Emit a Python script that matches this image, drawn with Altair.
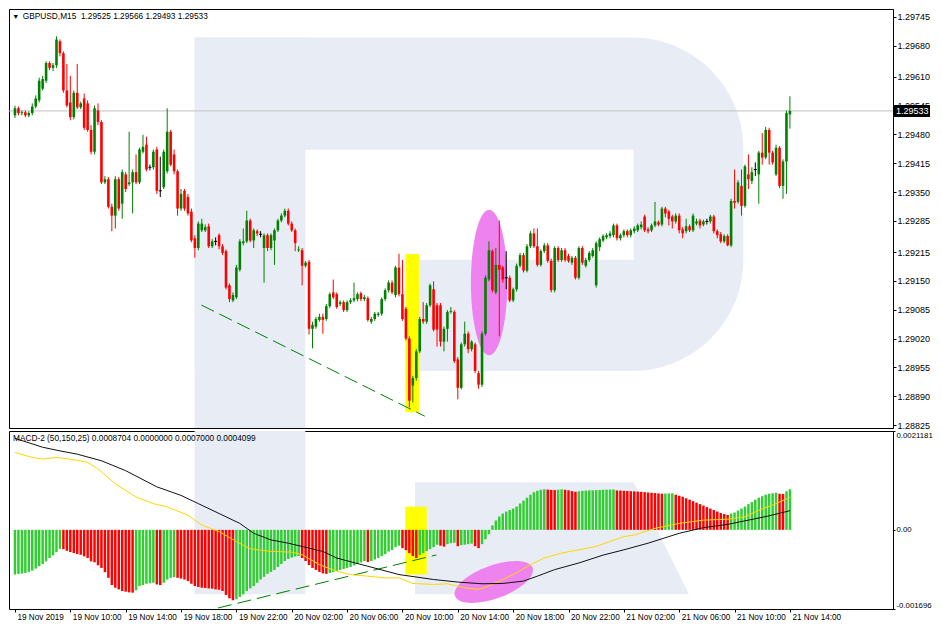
import altair as alt
import pandas as pd

# ---------------- candles (M15), prices as points (1e-5) above 1.29000 ----------------
open_pts = [
    523, 539, 528, 530, 523, 528, 543, 557, 583, 601,
    641, 630, 636, 690, 663, 579, 552, 519, 574, 541,
    561, 550, 490, 441, 534, 508, 372, 379, 317, 297,
    379, 324, 390, 368, 372, 395, 372, 441, 457, 406,
    406, 446, 353, 361, 397, 486, 435, 397, 313, 353,
    339, 306, 246, 224, 264, 264, 273, 228, 239, 253,
    228, 217, 140, 106, 113, 175, 235, 239, 286, 241,
    262, 255, 224, 253, 224, 241, 264, 286, 297, 308,
    279, 264, 219, 219, 184, 193, 42, 47, 62, 69,
    64, 93, 124, 120, 98, 102, 84, 102, 106, 109,
    122, 109, 111, 58, 64, 73, 76, 109, 129, 146,
    118, 180, 120, 87, 20, -86, -69, -9, 64, 58,
    95, 131, 95, 95, 13, 42, 80, 80, -27, -91,
    7, 31, -4, 7, -58, -84, 31, 153, 217, 124,
    186, 180, 157, 157, 106, 131, 184, 208, 173, 228,
    257, 228, 186, 217, 230, 195, 129, 224, 197, 219,
    206, 191, 202, 157, 224, 184, 197, 206, 140, 226,
    241, 248, 251, 253, 275, 246, 253, 262, 253, 262,
    264, 271, 295, 266, 264, 275, 282, 277, 313, 306,
    295, 284, 297, 266, 262, 273, 264, 279, 286, 277,
    284, 284, 295, 262, 255, 239, 251, 230, 330, 328,
    364, 319, 390, 375, 401, 390, 439, 428, 490, 439,
    390, 450, 364, 419, 525,
]
high_pts = [
    545, 543, 534, 534, 532, 550, 568, 608, 612, 645,
    645, 641, 701, 694, 667, 639, 612, 579, 639, 554,
    572, 557, 501, 545, 550, 512, 386, 384, 324, 386,
    384, 401, 395, 486, 401, 435, 450, 479, 475, 412,
    446, 452, 430, 446, 539, 490, 446, 401, 357, 357,
    346, 313, 253, 284, 290, 277, 279, 244, 248, 257,
    233, 221, 144, 124, 186, 244, 268, 308, 290, 268,
    266, 262, 257, 257, 257, 268, 290, 302, 313, 313,
    284, 268, 228, 224, 195, 197, 58, 69, 76, 76,
    98, 124, 153, 124, 106, 106, 106, 111, 146, 124,
    126, 118, 115, 69, 80, 80, 113, 133, 151, 151,
    184, 211, 197, 91, 25, -64, -4, 69, 102, 100,
    144, 149, 100, 100, 47, 84, 91, 84, -22, 11,
    58, 36, 16, 11, -53, 36, 162, 239, 221, 224,
    286, 184, 217, 162, 135, 189, 213, 213, 233, 262,
    268, 268, 221, 235, 235, 200, 228, 228, 224, 224,
    211, 206, 206, 228, 228, 202, 217, 224, 239, 248,
    255, 257, 262, 279, 279, 257, 266, 266, 268, 273,
    279, 284, 299, 271, 279, 328, 286, 317, 317, 310,
    299, 302, 302, 271, 290, 277, 302, 290, 290, 288,
    290, 299, 299, 266, 260, 255, 255, 335, 401, 377,
    401, 412, 435, 406, 417, 443, 483, 497, 495, 443,
    457, 454, 424, 534, 566,
]
low_pts = [
    517, 523, 523, 519, 519, 523, 539, 552, 579, 596,
    625, 623, 630, 656, 574, 541, 512, 514, 537, 537,
    490, 486, 435, 435, 501, 368, 368, 313, 262, 268,
    308, 290, 350, 364, 302, 368, 368, 437, 397, 399,
    401, 346, 339, 357, 392, 408, 390, 297, 308, 308,
    297, 237, 202, 219, 260, 260, 224, 224, 230, 221,
    208, 131, 102, 102, 109, 171, 230, 235, 237, 224,
    251, 248, 146, 217, 219, 186, 260, 282, 293, 275,
    260, 217, 215, 140, 180, 29, -2, 42, 58, 31,
    60, 89, 109, 87, 93, 80, 80, 98, 102, 104,
    104, 104, 58, 53, 60, 69, 71, 104, 124, 120,
    113, 115, 60, 16, -135, -124, -75, -13, 53, 53,
    91, 36, 2, 2, -9, 13, 76, -35, -117, -95,
    2, -13, -9, -58, -93, -89, 27, 149, 124, 120,
    25, 146, 131, 102, 102, 126, 180, 169, 169, 224,
    224, 182, 182, 213, 191, 124, 124, 193, 193, 193,
    191, 186, 153, 153, 186, 180, 193, 202, 135, 217,
    237, 244, 246, 248, 241, 241, 248, 248, 248, 257,
    260, 266, 260, 257, 260, 271, 273, 273, 293, 275,
    268, 279, 257, 246, 257, 260, 260, 275, 268, 273,
    277, 279, 257, 246, 235, 235, 228, 226, 313, 324,
    297, 315, 357, 368, 386, 324, 412, 424, 412, 412,
    386, 359, 335, 346, 493,
]
close_pts = [
    539, 528, 530, 523, 528, 543, 561, 601, 605, 641,
    630, 636, 694, 663, 579, 545, 519, 574, 541, 550,
    495, 490, 441, 539, 508, 372, 379, 317, 297, 379,
    313, 395, 357, 372, 395, 372, 446, 452, 401, 406,
    441, 353, 353, 441, 486, 412, 397, 313, 346, 313,
    302, 241, 224, 279, 279, 271, 228, 239, 239, 228,
    213, 135, 109, 118, 180, 239, 239, 286, 241, 264,
    257, 255, 253, 224, 253, 264, 286, 297, 308, 279,
    264, 235, 221, 184, 191, 42, 51, 64, 69, 62,
    93, 120, 113, 91, 102, 84, 102, 106, 111, 120,
    109, 113, 62, 64, 76, 76, 109, 129, 146, 124,
    180, 120, 64, 20, -120, -69, -9, 64, 58, 95,
    140, 40, 40, 13, 42, 80, 82, -31, -91, 7,
    31, -4, 13, -53, -84, 31, 157, 219, 129, 186,
    175, 153, 157, 106, 131, 184, 208, 173, 228, 257,
    228, 186, 217, 230, 195, 129, 224, 197, 219, 197,
    195, 202, 157, 224, 191, 197, 213, 219, 235, 244,
    251, 253, 257, 275, 246, 253, 262, 253, 264, 268,
    275, 277, 264, 262, 275, 284, 277, 313, 302, 290,
    284, 297, 264, 257, 273, 264, 297, 284, 275, 284,
    284, 295, 262, 253, 239, 251, 230, 330, 326, 372,
    319, 408, 379, 395, 401, 439, 428, 490, 439, 417,
    450, 364, 419, 528, 533,
]
bid_price = 1.29533

# ---------------- MACD-2 (50,150,25), values in units of 1e-5 ----------------
macd_hist_e5 = [
    -95.8, -94.3, -93.7, -92.2, -90.1, -87.3, -83.1, -78.0, -73.1, -67.4,
    -60.4, -54.7, -47.7, -40.7, -41.3, -44.9, -47.7, -49.8, -51.9, -53.4,
    -56.8, -60.4, -67.4, -69.5, -75.9, -81.6, -90.7, -102.8, -118.3, -124.0,
    -127.6, -131.0, -132.5, -134.0, -134.6, -129.7, -120.4, -118.3, -115.5, -114.5,
    -113.4, -117.0, -118.3, -113.4, -106.4, -102.8, -101.3, -102.8, -104.3, -106.4,
    -109.8, -115.5, -120.4, -122.5, -124.0, -124.7, -125.5, -126.1, -127.6, -128.3,
    -131.0, -139.5, -146.7, -150.9, -148.8, -143.7, -138.2, -131.0, -125.5, -120.4,
    -113.4, -106.4, -100.7, -94.3, -90.1, -85.9, -79.5, -73.1, -66.8, -62.5,
    -59.4, -57.2, -56.2, -60.4, -66.8, -75.3, -81.6, -85.9, -90.1, -93.3,
    -94.3, -92.2, -90.1, -88.0, -85.9, -83.7, -81.6, -79.5, -76.3, -73.1,
    -70.0, -66.8, -68.9, -66.8, -63.6, -60.4, -56.2, -51.9, -46.6, -43.5,
    -37.1, -33.9, -39.2, -43.5, -49.8, -56.2, -60.4, -54.1, -49.8, -45.6,
    -41.3, -37.1, -31.8, -33.9, -36.0, -30.7, -28.6, -27.6, -35.0, -32.9,
    -31.8, -30.7, -29.7, -35.0, -39.2, -30.7, -20.1, -9.5, 9.5, 20.1,
    28.6, 35.0, 39.2, 42.4, 45.6, 49.8, 56.2, 62.5, 68.9, 75.3,
    80.6, 83.7, 85.9, 86.9, 86.3, 85.6, 85.2, 85.9, 86.7, 85.9,
    84.8, 83.1, 81.6, 82.7, 83.7, 84.2, 84.6, 84.8, 85.2, 85.4,
    85.9, 86.1, 86.3, 86.5, 84.4, 84.2, 83.7, 83.3, 82.9, 82.5,
    82.0, 81.4, 80.8, 80.1, 79.5, 78.9, 78.0, 77.4, 77.8, 78.2,
    78.4, 75.3, 73.1, 71.0, 67.8, 64.7, 61.5, 58.3, 55.1, 51.9,
    48.8, 45.6, 42.4, 39.2, 36.0, 33.9, 31.8, 35.0, 37.1, 41.3,
    45.6, 49.8, 55.1, 59.4, 64.7, 68.9, 72.1, 75.3, 77.4, 78.4,
    79.5, 77.4, 76.7, 82.7, 87.0,
]
# g = rising bar (green), r = falling bar (red)
macd_hist_dir = (
    "gggggggggg" "ggggrrrrrr" "rrrrrrrrrr" "rrrrrggggg" "grrggggrrr"
    "rrrrrrrrrr" "rrrrgggggg" "gggggggggg" "gggrrrrrrr" "rggggggggg"
    "ggrggggggg" "ggrrrrrggg" "gggrrgggrg" "gggrrggggg" "gggggggggg"
    "ggggrrrggr" "rrrggggggg" "ggggrrrrrr" "rrrrrrrrgg" "grrrrrrrrr"
    "rrrrrrrggg" "gggggggggg" "grrgg"
)
black_idx = [0, 8, 13, 18, 25, 32, 41, 48, 53, 59, 65, 69, 74, 79, 83, 89, 93, 102,
             111, 121, 128, 135, 141, 147, 151, 156, 163, 170, 176, 183, 192, 199,
             206, 212, 218, 224]
black_e5 = [196.1, 177.0, 169.2, 162.2, 148.0, 126.8, 92.2, 73.8, 56.2, 35.0, 13.8,
            -7.4, -21.6, -28.6, -35.6, -46.2, -60.4, -78.0, -95.8, -106.4, -111.9,
            -115.5, -114.9, -109.8, -99.2, -85.2, -71.0, -54.1, -42.8, -28.6, -7.4,
            4.7, 11.7, 20.8, 30.1, 41.0]
gold_idx = [0, 5, 8, 12, 16, 21, 24, 29, 35, 40, 44, 50, 54, 59, 64, 68, 74, 80, 83,
            88, 93, 97, 102, 107, 111, 115, 121, 125, 130, 134, 137, 140, 144, 149,
            153, 158, 163, 168, 172, 176, 179, 185, 192, 199, 206, 211, 215, 220, 224]
gold_e5 = [165.8, 155.2, 151.6, 155.2, 151.6, 144.6, 130.4, 98.6, 70.4, 56.2, 49.2,
           31.4, 10.2, -3.8, -25.0, -40.7, -46.2, -47.7, -53.4, -74.6, -88.6, -95.8,
           -99.2, -102.8, -102.8, -114.9, -117.0, -115.5, -124.0, -127.6, -120.4,
           -109.8, -95.8, -74.6, -60.4, -49.8, -42.8, -35.6, -25.0, -14.4, -11.0,
           3.2, 13.8, 20.8, 22.9, 28.0, 42.0, 56.2, 70.0]

# ---------------- axes ----------------
time_tick_idx = [0, 16, 32, 48, 64, 80, 96, 112, 128, 144, 160, 176, 192, 208, 224]
time_tick_labels = ["19 Nov 2019", "19 Nov 10:00", "19 Nov 14:00", "19 Nov 18:00",
                    "19 Nov 22:00", "20 Nov 02:00", "20 Nov 06:00", "20 Nov 10:00",
                    "20 Nov 14:00", "20 Nov 18:00", "20 Nov 22:00", "21 Nov 02:00",
                    "21 Nov 06:00", "21 Nov 10:00", "21 Nov 14:00"]
price_ticks = [1.29745, 1.29680, 1.29610, 1.29545, 1.29480, 1.29415, 1.29350, 1.29285,
               1.29215, 1.29150, 1.29085, 1.29020, 1.28955, 1.28890, 1.28825]
macd_ticks = [0.0021181, 0.0, -0.001696]
macd_tick_labels = ["0.0021181", "0.00", "-0.001696"]

main_header = "GBPUSD,M15\u00a0\u00a01.29525 1.29566 1.29493 1.29533"
macd_header = "MACD-2 (50,150,25) 0.0008704 0.0000000 0.0007000 0.0004099"

WM = "#e8edf5"
FONT = "Liberation Sans"
CANDLE_COLORS = {"up": "#008000", "down": "#ff0000", "doji": "#000000"}
HIST_COLORS = {"g": "#32cd32", "r": "#ff0000"}
W, H1, H2 = 884, 419, 178
SX = W / 900.0
SY = H1 / 426.0

# ---------------- frames ----------------
n = len(close_pts)
cdf = pd.DataFrame({
    "bar": list(range(n)),
    "o": [1.29 + v / 1e5 for v in open_pts],
    "h": [1.29 + v / 1e5 for v in high_pts],
    "l": [1.29 + v / 1e5 for v in low_pts],
    "c": [1.29 + v / 1e5 for v in close_pts],
})
cdf["dir"] = ["up" if c > o else ("down" if c < o else "doji") for o, c in zip(open_pts, close_pts)]
cdf["col"] = [CANDLE_COLORS[d] for d in cdf["dir"]]

hdf = pd.DataFrame({
    "bar": list(range(len(macd_hist_e5))),
    "v": [v * 1e-5 for v in macd_hist_e5],
    "hcol": [HIST_COLORS[d] for d in macd_hist_dir],
})
bdf = pd.DataFrame({"bar": black_idx, "v": [v * 1e-5 for v in black_e5]})
gdf = pd.DataFrame({"bar": gold_idx, "v": [v * 1e-5 for v in gold_e5]})

XS = alt.Scale(domain=[-0.28, 252.35], nice=False, zero=False)
PS = alt.Scale(domain=[1.288184, 1.297627], nice=False, zero=False)
MS = alt.Scale(domain=[-0.001696, 0.0021181], nice=False, zero=False)

price_axis = alt.Axis(orient="right", values=price_ticks, format=".5f", tickSize=3,
                      labelPadding=1, grid=False, title=None, labelFlush=False,
                      labelOverlap=False, labelFontSize=9)
macd_expr = " : ".join(
    [f"datum.value == {v} ? '{s}'" for v, s in zip(macd_ticks[:-1], macd_tick_labels[:-1])]
) + f" : '{macd_tick_labels[-1]}'"
macd_axis = alt.Axis(orient="right", values=macd_ticks, labelExpr=macd_expr, tickSize=2,
                     labelPadding=1, grid=False, title=None, labelFlush=True,
                     labelOverlap=False, labelFontSize=7.8)
time_expr = "[" + ",".join(f"'{s}'" for s in time_tick_labels) + "][round(datum.value / 16)]"
time_axis = alt.Axis(values=time_tick_idx, labelExpr=time_expr, labelAlign="left",
                     labelOffset=2, tickSize=3, labelPadding=1, domain=False, grid=False,
                     title=None, labelFlush=False, labelOverlap=False, labelFontSize=8.2)


def xm(f):
    return alt.X(f, type="quantitative", scale=XS, axis=None)


def xb(f):
    return alt.X(f, type="quantitative", scale=XS, axis=time_axis)


def yp(f):
    return alt.Y(f, type="quantitative", scale=PS, axis=price_axis)


def ym(f):
    return alt.Y(f, type="quantitative", scale=MS, axis=macd_axis)


def rect_layer(df, color, xfun, yfun, **kw):
    return alt.Chart(df).mark_rect(color=color, **kw).encode(
        x=xfun("x"), x2="x2:Q", y=yfun("y"), y2="y2:Q")


candle_color = alt.Color("col:N", scale=None, legend=None)

# ---- main panel ----
ell_r = 74 * SY
m_stem = rect_layer(pd.DataFrame({"x": [51.93], "x2": [83.93], "y": [1.296984], "y2": [1.288184]}), WM, xm, yp)
m_bowl = rect_layer(pd.DataFrame({"x": [51.93], "x2": [210.53], "y": [1.296984], "y2": [1.289469]}), WM, xm, yp,
                    cornerRadiusTopRight=111, cornerRadiusBottomRight=111)
m_hole = rect_layer(pd.DataFrame({"x": [83.93], "x2": [178.81], "y": [1.294457], "y2": [1.291974]}), "white", xm, yp)
m_gap = rect_layer(pd.DataFrame({"x": [83.93], "x2": [115.65], "y": [1.291974], "y2": [1.289469]}), "white", xm, yp)
m_yellow = rect_layer(pd.DataFrame({"x": [112.84], "x2": [116.77], "y": [1.292107], "y2": [1.288538]}), "#ffff00", xm, yp)
m_ell = alt.Chart(pd.DataFrame({"x": [137.05], "y": [1.291464]})).mark_point(
    shape="M0,-1A0.25,1,0,1,1,0,1A0.25,1,0,1,1,0,-1Z", size=(2 * ell_r) ** 2, filled=True,
    color="#ee82ee", opacity=1, strokeWidth=0).encode(x=xm("x"), y=yp("y"))
m_trend = alt.Chart(pd.DataFrame({"x": [53.89, 118.46], "y": [1.290955, 1.288450]})).mark_line(
    color="#008000", strokeWidth=1, strokeDash=[14, 6]).encode(x=xm("x"), y=yp("y"))
m_bid = alt.Chart(pd.DataFrame({"p": [bid_price]})).mark_rule(color="#c0c0c0", strokeWidth=1).encode(y=yp("p"))
m_wick = alt.Chart(cdf).mark_rule(strokeWidth=1).encode(x=xm("bar"), y=yp("l"), y2="h:Q", color=candle_color)
m_body = alt.Chart(cdf).mark_bar(size=2.6).encode(x=xm("bar"), y=yp("o"), y2="c:Q", color=candle_color)
m_doji = alt.Chart(cdf[cdf["dir"] == "doji"]).mark_rule(color="black", strokeWidth=1, xOffset=-1.5, x2Offset=1.5).encode(
    x=xm("bar"), x2="bar:Q", y=yp("c"))
m_box = alt.Chart(pd.DataFrame({"p": [bid_price]})).mark_point(
    shape="M-1,-0.333L1,-0.333L1,0.333L-1,0.333Z", size=36 ** 2, filled=True, color="black",
    opacity=1, strokeWidth=0).encode(x=alt.value(W + 19), y=yp("p"))
m_boxtext = alt.Chart(pd.DataFrame({"p": [bid_price], "t": [f"{bid_price:.5f}"]})).mark_text(
    align="left", baseline="middle", color="white", font=FONT, fontSize=9).encode(
    x=alt.value(W + 3), y=yp("p"), text="t:N")
m_tri = alt.Chart(pd.DataFrame({"t": ["\u25bc"]})).mark_text(
    align="center", baseline="middle", font=FONT, fontSize=7, color="black").encode(
    x=alt.value(6.8), y=alt.value(8), text="t:N")
m_head = alt.Chart(pd.DataFrame({"t": [main_header]})).mark_text(
    align="left", baseline="middle", font=FONT, fontSize=8.3, color="black").encode(
    x=alt.value(13.8), y=alt.value(8), text="t:N")

main = alt.layer(m_stem, m_bowl, m_hole, m_gap, m_yellow, m_ell, m_trend, m_bid,
                 m_wick, m_body, m_doji, m_box, m_boxtext, m_tri, m_head).properties(width=W, height=H1)

# ---- MACD panel ----
ell2_r = 42 * SX
d_stem = rect_layer(pd.DataFrame({"x": [51.93], "x2": [83.93], "y": [0.0021181], "y2": [-0.001380]}), WM, xb, ym)
d_leg = alt.Chart(pd.DataFrame({"x": [115.65, 178.81, 194.81], "y": [0.001022, 0.001022, -0.001380],
                                "y2": [-0.001380, -0.001380, -0.001380]})).mark_area(color=WM, opacity=1).encode(
    x=xb("x"), y=ym("y"), y2="y2:Q")
d_yellow = rect_layer(pd.DataFrame({"x": [112.84], "x2": [119.02], "y": [0.000495], "y2": [-0.000959]}), "#ffff00", xb, ym)
d_ell = alt.Chart(pd.DataFrame({"x": [138.4], "y": [-0.001117]})).mark_point(
    shape="M-1,0A1,0.4,0,1,1,1,0A1,0.4,0,1,1,-1,0Z", size=(2 * ell2_r) ** 2, filled=True, angle=340,
    color="#ee82ee", opacity=1, strokeWidth=0).encode(x=xb("x"), y=ym("y"))
d_hist = alt.Chart(hdf).mark_bar(size=2.5).encode(
    x=xb("bar"), y=ym("v"), y2=alt.datum(0),
    color=alt.Color("hcol:N", scale=None, legend=None))
d_trend = alt.Chart(pd.DataFrame({"x": [58.67, 121.82], "y": [-0.001675, -0.000537]})).mark_line(
    color="#008000", strokeWidth=1, strokeDash=[14, 6]).encode(x=xb("x"), y=ym("y"))
d_gold = alt.Chart(gdf).mark_line(color="#ffd700", strokeWidth=1).encode(x=xb("bar"), y=ym("v"))
d_black = alt.Chart(bdf).mark_line(color="#111111", strokeWidth=1).encode(x=xb("bar"), y=ym("v"))
d_head = alt.Chart(pd.DataFrame({"t": [macd_header]})).mark_text(
    align="left", baseline="middle", font=FONT, fontSize=8.3, color="black").encode(
    x=alt.value(4), y=alt.value(8), text="t:N")

macd = alt.layer(d_stem, d_leg, d_yellow, d_ell, d_hist, d_trend, d_gold, d_black, d_head).properties(
    width=W, height=H2)

chart = alt.vconcat(main, macd, spacing=3, bounds="flush").properties(
    padding=0
).configure_view(stroke="black", strokeWidth=1).configure_axis(
    labelFont=FONT, labelColor="black", domainColor="black", tickColor="black"
)

chart.save("out.html", embed_options={"renderer": "svg", "actions": False})
